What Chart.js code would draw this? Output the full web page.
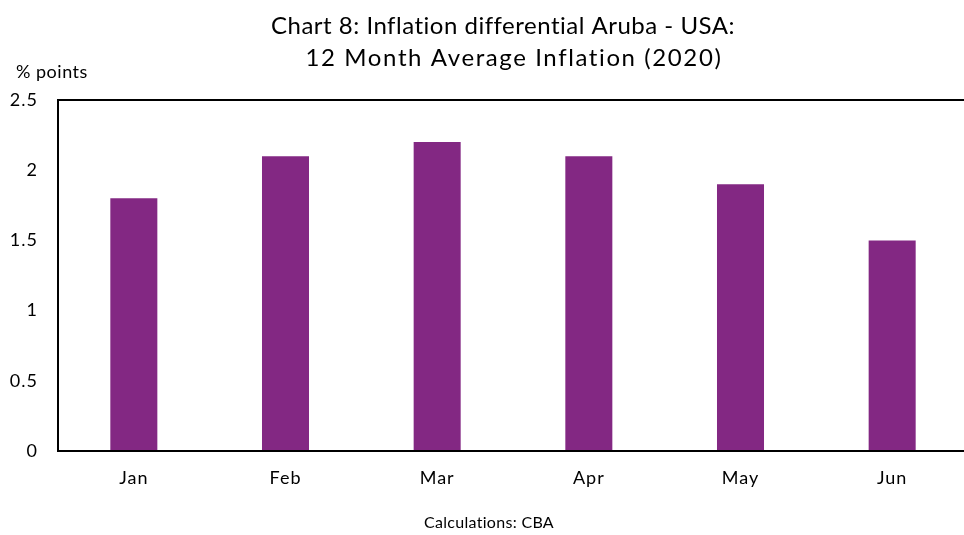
<!DOCTYPE html>
<html>
<head>
<meta charset="utf-8">
<script src="https://cdn.jsdelivr.net/npm/chart.js@4/dist/chart.umd.min.js"></script>
<style>
  html, body { margin: 0; padding: 0; background: #fff; overflow: hidden; }
  #wrap { width: 964px; height: 535px; overflow: hidden; }
  canvas { display: block; }
</style>
</head>
<body>
<!-- the plot in the source runs a few px past the right edge, so the canvas is a touch wider than the window -->
<div id="wrap"><canvas id="chart" width="968" height="535"></canvas></div>
<script>
const months = ['Jan', 'Feb', 'Mar', 'Apr', 'May', 'Jun'];
const differential = [1.8, 2.1, 2.2, 2.1, 1.9, 1.5];
const yTicks = [0, 0.5, 1, 1.5, 2, 2.5];
const titleLines = ['Chart 8: Inflation differential Aruba - USA:', '12 Month Average Inflation (2020)'];
const unitLabel = '% points';
const sourceNote = 'Calculations: CBA';

const FONT = 'Lato, "Open Sans", sans-serif';

// titles and notes drawn on the canvas, placed around the plot
const textPlugin = {
    id: 'texts',
    beforeDraw(chart) {
        // the reference font runs a little wider than Lato
        chart.ctx.letterSpacing = '1px';
    },
    afterDraw(chart) {
        const ctx = chart.ctx;
        ctx.save();
        ctx.fillStyle = '#000';
        ctx.textBaseline = 'middle';
        ctx.textAlign = 'center';
        ctx.font = '24px ' + FONT;
        ctx.letterSpacing = '0.5px';
        ctx.fillText(titleLines[0], 503, 26);
        ctx.letterSpacing = '1.6px';
        ctx.fillText(titleLines[1], 514, 58);
        ctx.textAlign = 'left';
        ctx.font = '18px ' + FONT;
        ctx.letterSpacing = '0.5px';
        ctx.fillText(unitLabel, 16, 72);
        ctx.textAlign = 'center';
        ctx.font = '16px ' + FONT;
        ctx.letterSpacing = '0.3px';
        ctx.fillText(sourceNote, 489, 523);
        ctx.restore();
    }
};

new Chart(document.getElementById('chart'), {
    type: 'bar',
    data: {
        labels: months,
        datasets: [{
            label: 'Inflation differential',
            data: differential,
            backgroundColor: '#832883',
            categoryPercentage: 1,
            barPercentage: 0.31
        }]
    },
    options: {
        responsive: false,
        animation: false,
        layout: { padding: { top: 100, right: 0, left: 0, bottom: 0 } },
        plugins: {
            legend: { display: false },
            tooltip: { enabled: false }
        },
        scales: {
            x: {
                grid: { display: false },
                border: { display: true, color: '#000', width: 2 },
                ticks: { color: '#000', font: { family: FONT, size: 18 }, padding: 8 },
                afterFit(scale) { scale.height = 84; }
            },
            y: {
                min: yTicks[0],
                max: yTicks[yTicks.length - 1],
                afterBuildTicks(scale) { scale.ticks = yTicks.map(v => ({ value: v })); },
                ticks: {
                    color: '#000',
                    font: { family: FONT, size: 18 },
                    padding: 20,
                    callback: (v) => String(v)
                },
                grid: {
                    drawTicks: false,
                    color: (c) => c.tick && c.tick.value === 2.5 ? '#000' : 'rgba(0,0,0,0)',
                    lineWidth: 2
                },
                border: { display: true, color: '#000', width: 2 },
                afterFit(scale) { scale.width = 58; }
            }
        }
    },
    plugins: [textPlugin]
});
</script>
</body>
</html>
